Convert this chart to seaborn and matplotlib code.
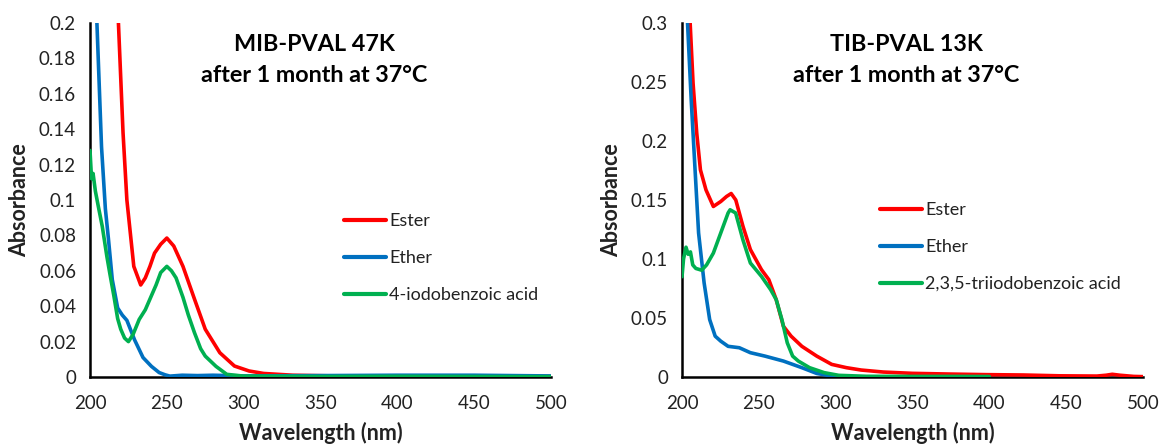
import numpy as np
import pandas as pd
import matplotlib
matplotlib.use("Agg")
import matplotlib.pyplot as plt
import seaborn as sns

# ---------------- data ----------------
series_names_left = ["Ester", "Ether", "4-iodobenzoic acid"]
series_names_right = ["Ester", "Ether", "2,3,5-triiodobenzoic acid"]

ester_l_x = [216, 218.5, 221.5, 224, 228.5, 233, 236, 239, 242, 246, 250, 254.5, 260.5,
             268, 275, 284.5, 294, 303.5, 313, 332, 360, 400, 450, 500]
ester_l_y = [0.26, 0.2, 0.138, 0.1, 0.0625, 0.052, 0.056, 0.0625, 0.07, 0.075, 0.0785, 0.074,
             0.0625, 0.044, 0.027, 0.0137, 0.0062, 0.0034, 0.002, 0.001, 0.0006, 0.0005,
             0.0004, 0.0003]

ether_l_x = [201, 204.5, 207.5, 210, 212, 214.5, 218, 221, 224, 229, 234.5, 240, 245, 249,
             252, 260, 270, 280, 300, 350, 400, 450, 500]
ether_l_y = [0.28, 0.2, 0.13, 0.095, 0.078, 0.055, 0.039, 0.035, 0.032, 0.021, 0.011, 0.006,
             0.0025, 0.0012, 0.0005, 0.001, 0.0008, 0.001, 0.0006, 0.0008, 0.001, 0.001, 0.0006]

acid_l_x = [200, 201, 202, 203.5, 205.5, 208, 211, 213, 215.5, 218, 220, 222.5, 225, 228,
            232, 236, 239, 243, 246, 250, 253, 256, 260.5, 264, 268, 272, 275, 282, 289,
            300, 350, 400, 450, 500]
acid_l_y = [0.128, 0.112, 0.115, 0.105, 0.096, 0.085, 0.068, 0.058, 0.046, 0.033, 0.027,
            0.022, 0.020, 0.024, 0.0325, 0.038, 0.044, 0.052, 0.059, 0.0625, 0.06, 0.056,
            0.045, 0.035, 0.025, 0.016, 0.0118, 0.006, 0.0015, 0.0005, 0.0003, 0.0004,
            0.0003, 0.0002]

ester_r_x = [202, 205.3, 207.2, 209.6, 212, 215.6, 220.4, 225.2, 229, 232, 235, 239.7, 244.5,
             251.7, 256.5, 261.3, 266, 271, 278, 287.7, 297.4, 307, 316.6, 331, 350, 374,
             398, 422, 446, 470, 476, 480, 485, 494, 500]
ester_r_y = [0.39, 0.3, 0.249, 0.2065, 0.1755, 0.1586, 0.1445, 0.1487, 0.153, 0.1555, 0.150,
             0.1276, 0.108, 0.091, 0.0825, 0.0656, 0.043, 0.0346, 0.026, 0.0177, 0.0107,
             0.0079, 0.0059, 0.0042, 0.0031, 0.0025, 0.002, 0.0017, 0.001, 0.0008, 0.0015,
             0.0023, 0.0015, 0.0005, 0.0003]

ether_r_x = [200, 203.6, 206, 208.4, 210.8, 214.4, 218, 221.6, 225.2, 230, 237.3, 244.5,
             254, 266, 278, 287.7, 297.4, 310]
ether_r_y = [0.4, 0.3, 0.2346, 0.178, 0.122, 0.0797, 0.0487, 0.0346, 0.0304, 0.026, 0.0248,
             0.0206, 0.0177, 0.0135, 0.0079, 0.003, 0.0008, 0.0002]

acid_r_x = [200, 201, 202.6, 204, 205.5, 207, 209, 212.8, 216, 220.4, 225.2, 230, 231.3,
            234.9, 239.7, 244.5, 251.7, 257.7, 261.3, 265, 268.5, 272, 275.7, 283, 292.5,
            302, 320, 350, 380, 400]
acid_r_y = [0.085, 0.1, 0.110, 0.104, 0.106, 0.095, 0.092, 0.0905, 0.095, 0.105, 0.122,
            0.139, 0.1417, 0.139, 0.116, 0.0966, 0.0853, 0.074, 0.0656, 0.0487, 0.029,
            0.0177, 0.0135, 0.0079, 0.0037, 0.0014, 0.0006, 0.0005, 0.0005, 0.0004]

titles = ["MIB-PVAL 47K\nafter 1 month at 37°C", "TIB-PVAL 13K\nafter 1 month at 37°C"]
xticks = [200, 250, 300, 350, 400, 450, 500]
yticks_left = [0, 0.02, 0.04, 0.06, 0.08, 0.1, 0.12, 0.14, 0.16, 0.18, 0.2]
yticks_right = [0, 0.05, 0.1, 0.15, 0.2, 0.25, 0.3]
colors = ["#FF0000", "#0070C0", "#00B050"]

# ---------------- style ----------------
sns.set_theme(style="white")
plt.rcParams["font.family"] = ["Lato", "DejaVu Sans"]
plt.rcParams["axes.edgecolor"] = "black"


def long_df(names, xs, ys):
    frames = []
    for n, x, y in zip(names, xs, ys):
        frames.append(pd.DataFrame({"Wavelength": x, "Absorbance": y, "Series": n}))
    return pd.concat(frames, ignore_index=True)


df_left = long_df(series_names_left, [ester_l_x, ether_l_x, acid_l_x],
                  [ester_l_y, ether_l_y, acid_l_y])
df_right = long_df(series_names_right, [ester_r_x, ether_r_x, acid_r_x],
                   [ester_r_y, ether_r_y, acid_r_y])

fig = plt.figure(figsize=(11.59, 4.46), dpi=100)
ax_l = fig.add_axes([90 / 1159, 1 - 377 / 446, 461 / 1159, 354 / 446])
ax_r = fig.add_axes([682 / 1159, 1 - 377 / 446, 461 / 1159, 354 / 446])


def fmt(v):
    if v == 0:
        return "0"
    return ("%g" % v)


panels = [
    (ax_l, df_left, series_names_left, yticks_left, 0.2, titles[0], (0.551, 0.336)),
    (ax_r, df_right, series_names_right, yticks_right, 0.3, titles[1], (0.4295, 0.367)),
]

for ax, df, names, yt, ymax, title, legpos in panels:
    sns.lineplot(data=df, x="Wavelength", y="Absorbance", hue="Series", hue_order=names,
                 palette=colors, linewidth=2.6, sort=True, estimator=None, ax=ax,
                 zorder=3)
    ax.set_xlim(200, 500)
    ax.set_ylim(0, ymax)
    ax.set_xticks(xticks)
    ax.set_xticklabels([str(t) for t in xticks])
    ax.set_yticks(yt)
    ax.set_yticklabels([fmt(t) for t in yt])
    for s in ["top", "right"]:
        ax.spines[s].set_visible(False)
    for s in ["left", "bottom"]:
        ax.spines[s].set_linewidth(1.8)
        ax.spines[s].set_color("black")
    ax.tick_params(axis="both", direction="out", length=6, width=1.8, colors="black",
                   labelsize=13.5, labelcolor="#222222", pad=4)
    ax.tick_params(axis="x", pad=7)
    ax.set_xlabel("Wavelength (nm)", fontsize=15.5, fontweight="bold", color="#222222")
    ax.set_ylabel("Absorbance", fontsize=15.5, fontweight="bold", color="#222222")
    ax.xaxis.set_label_coords(0.5, -0.128)
    ax.yaxis.set_label_coords(-0.13, 0.5)
    ax.grid(False)
    ax.text(0.486, 0.895, title, transform=ax.transAxes, ha="center", va="center",
            fontsize=16.8, fontweight="bold", color="black", linespacing=1.6)
    handles, labels = ax.get_legend_handles_labels()
    for h in handles:
        h.set_linewidth(3)
    ax.legend(handles, labels, loc="center left", bbox_to_anchor=legpos, frameon=False,
              fontsize=13, handlelength=2.3, handletextpad=0.2, labelspacing=1.15,
              borderpad=0, borderaxespad=0, labelcolor="#222222")

fig.savefig("out.png", dpi=100, facecolor="white")
